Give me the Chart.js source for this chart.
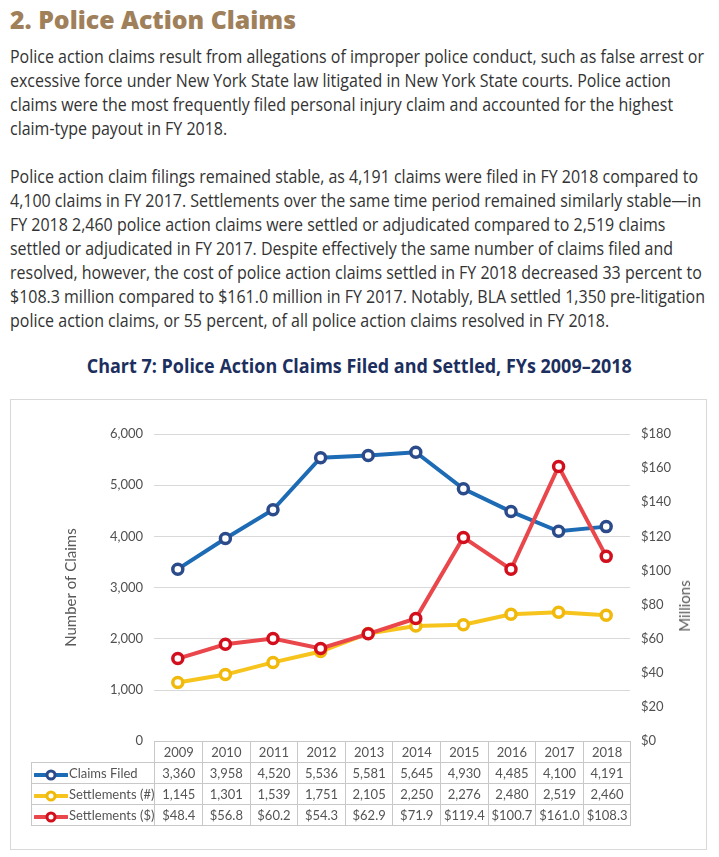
<!DOCTYPE html>
<html><head><meta charset="utf-8">
<script src="https://cdn.jsdelivr.net/npm/chart.js@4.4.1/dist/chart.umd.min.js"></script>
<style>
html,body{margin:0;padding:0;background:#fff;width:719px;height:857px;overflow:hidden;position:relative;font-family:"Open Sans",sans-serif;}
.abs{position:absolute;white-space:nowrap;}
#heading{left:10px;top:4px;font-family:"Open Sans";font-weight:800;font-size:25px;color:#a0805a;line-height:30px;}
.pl{left:10px;font-size:18px;line-height:24px;color:#333;}
.fit{display:inline-block;transform-origin:0 50%;}
#ctitle{left:0;width:719px;text-align:center;top:354px;font-size:19px;line-height:24px;font-weight:700;color:#1c2f5e;}
#ctitle .fit{transform-origin:50% 50%;}
#box{left:10px;top:399px;width:697px;height:451px;border:1px solid #d9d9d9;box-sizing:border-box;}
#wrap{left:0;top:390px;width:719px;height:370px;}
#rtitle{font-family:Lato,sans-serif;font-size:15px;color:#595959;line-height:18px;transform:translate(-50%,-50%) rotate(-90deg);}
#tbl{position:absolute;border-collapse:collapse;table-layout:fixed;font-family:Lato,sans-serif;font-size:13px;color:#555;}
#tbl td{border:1px solid #c8c8c8;height:20px;line-height:20px;padding:0;text-align:center;white-space:nowrap;}
#tbl td.lg{text-align:left;padding-left:2px;}
#tbl td.blank{border:none;}
#tbl svg{vertical-align:middle;margin-right:1px;}
</style>
</head>
<body>
<div id="heading" class="abs"><span class="fit">2. Police Action Claims</span></div>

<div class="abs pl" style="top:44px"><span class="fit">Police action claims result from allegations of improper police conduct, such as false arrest or</span></div>
<div class="abs pl" style="top:68px"><span class="fit">excessive force under New York State law litigated in New York State courts. Police action</span></div>
<div class="abs pl" style="top:92px"><span class="fit">claims were the most frequently filed personal injury claim and accounted for the highest</span></div>
<div class="abs pl" style="top:116px"><span class="fit">claim-type payout in FY 2018.</span></div>

<div class="abs pl" style="top:164px"><span class="fit">Police action claim filings remained stable, as 4,191 claims were filed in FY 2018 compared to</span></div>
<div class="abs pl" style="top:188px"><span class="fit">4,100 claims in FY 2017. Settlements over the same time period remained similarly stable—in</span></div>
<div class="abs pl" style="top:212px"><span class="fit">FY 2018 2,460 police action claims were settled or adjudicated compared to 2,519 claims</span></div>
<div class="abs pl" style="top:236px"><span class="fit">settled or adjudicated in FY 2017. Despite effectively the same number of claims filed and</span></div>
<div class="abs pl" style="top:260px"><span class="fit">resolved, however, the cost of police action claims settled in FY 2018 decreased 33 percent to</span></div>
<div class="abs pl" style="top:284px"><span class="fit">$108.3 million compared to $161.0 million in FY 2017. Notably, BLA settled 1,350 pre-litigation</span></div>
<div class="abs pl" style="top:308px"><span class="fit">police action claims, or 55 percent, of all police action claims resolved in FY 2018.</span></div>

<div id="ctitle" class="abs"><span class="fit">Chart 7: Police Action Claims Filed and Settled, FYs 2009–2018</span></div>

<div id="box" class="abs"></div>
<div id="wrap" class="abs"><canvas id="c" width="719" height="370"></canvas></div>
<div id="rtitle" class="abs" style="left:684px;top:606px">Millions</div>
<table id="tbl"></table>

<script>
// ---- data ----
const years = ['2009','2010','2011','2012','2013','2014','2015','2016','2017','2018'];
const claimsFiled = [3360,3958,4520,5536,5581,5645,4930,4485,4100,4191];
const settlementsCount = [1145,1301,1539,1751,2105,2250,2276,2480,2519,2460];
const settlementsDollars = [48.4,56.8,60.2,54.3,62.9,71.9,119.4,100.7,161.0,108.3];
const seriesNames = ['Claims Filed','Settlements (#)','Settlements ($)'];
const leftTicks = {min:0, max:6000, step:1000};
const rightTicks = {min:0, max:180, step:20};

// ---- text fitting ----
function scaleTo(el, target){ const w = el.getBoundingClientRect().width; el.style.transform = 'scaleX(' + (target / w) + ')'; }
scaleTo(document.querySelector('#heading .fit'), 286);
const lines = document.querySelectorAll('.pl .fit');
const f = 694 / lines[0].getBoundingClientRect().width;
lines.forEach(l => l.style.transform = 'scaleX(' + f + ')');
scaleTo(document.querySelector('#ctitle .fit'), 545);

// ---- chart ----
const lineCol = ['#1d6bb4','#f6c41c','#e9474c'];
const ptCol = ['#2c4b8b','#f0b90b','#d20f1c'];
const tickFont = {family:'Lato', size:13};
const chart = new Chart(document.getElementById('c'), {
  type:'line',
  data:{labels:years, datasets:[
    {label:seriesNames[0], data:claimsFiled, yAxisID:'y', borderColor:lineCol[0], pointBorderColor:ptCol[0], pointBackgroundColor:'#fff', borderWidth:4, pointRadius:5, pointBorderWidth:3.5, tension:0, order:2},
    {label:seriesNames[1], data:settlementsCount, yAxisID:'y', borderColor:lineCol[1], pointBorderColor:ptCol[1], pointBackgroundColor:'#fff', borderWidth:4, pointRadius:5, pointBorderWidth:3.5, tension:0, order:1},
    {label:seriesNames[2], data:settlementsDollars, yAxisID:'y1', borderColor:lineCol[2], pointBorderColor:ptCol[2], pointBackgroundColor:'#fff', borderWidth:4, pointRadius:5, pointBorderWidth:3.5, tension:0, order:0}
  ]},
  options:{
    responsive:false, animation:false,
    layout:{padding:{top:44,bottom:17,left:0,right:0}},
    plugins:{legend:{display:false}, tooltip:{enabled:false}},
    scales:{
      x:{display:false, offset:true},
      y:{position:'left', min:leftTicks.min, max:leftTicks.max,
         ticks:{stepSize:leftTicks.step, padding:11, color:'#505050', font:tickFont, callback:v=>v.toLocaleString('en-US')},
         grid:{color:c=>c.tick && c.tick.value===0 ? 'rgba(0,0,0,0)' : '#d9d9d9', drawTicks:false, lineWidth:1},
         border:{display:false},
         title:{display:true, text:'Number of Claims', color:'#595959', font:{family:'Lato', size:15}, padding:{top:62,bottom:0}},
         afterFit:s=>{s.width=154;}},
      y1:{position:'right', min:rightTicks.min, max:rightTicks.max,
         ticks:{stepSize:rightTicks.step, padding:11, color:'#505050', font:tickFont, callback:v=>'$'+v},
         grid:{display:false, drawTicks:false}, border:{display:false},
         afterFit:s=>{s.width=89;}}
    }
  }
});

// ---- data table aligned to the x scale ----
const xs = chart.scales.x;
const wrapTop = 390;
const tblLeft = 31;
const colW = (xs.right - xs.left) / years.length;
const tbl = document.getElementById('tbl');
tbl.style.left = tblLeft + 'px';
tbl.style.top = (wrapTop + chart.chartArea.bottom) + 'px';
let html = '<colgroup><col style="width:' + (xs.left - tblLeft) + 'px">' + years.map(()=>'<col style="width:' + colW + 'px">').join('') + '</colgroup>';
html += '<tr><td class="blank"></td>' + years.map(y=>'<td>'+y+'</td>').join('') + '</tr>';
const rows = [claimsFiled.map(v=>v.toLocaleString('en-US')), settlementsCount.map(v=>v.toLocaleString('en-US')), settlementsDollars.map(v=>'$'+v.toFixed(1))];
rows.forEach((r,i)=>{
  const icon = '<svg width="34" height="12"><line x1="1" y1="6" x2="33" y2="6" stroke="'+lineCol[i]+'" stroke-width="4" stroke-linecap="round"/><circle cx="17" cy="6" r="4" fill="#fff" stroke="'+ptCol[i]+'" stroke-width="3"/></svg>';
  html += '<tr><td class="lg">' + icon + seriesNames[i] + '</td>' + r.map(v=>'<td>'+v+'</td>').join('') + '</tr>';
});
tbl.innerHTML = html;
</script>
</body></html>
